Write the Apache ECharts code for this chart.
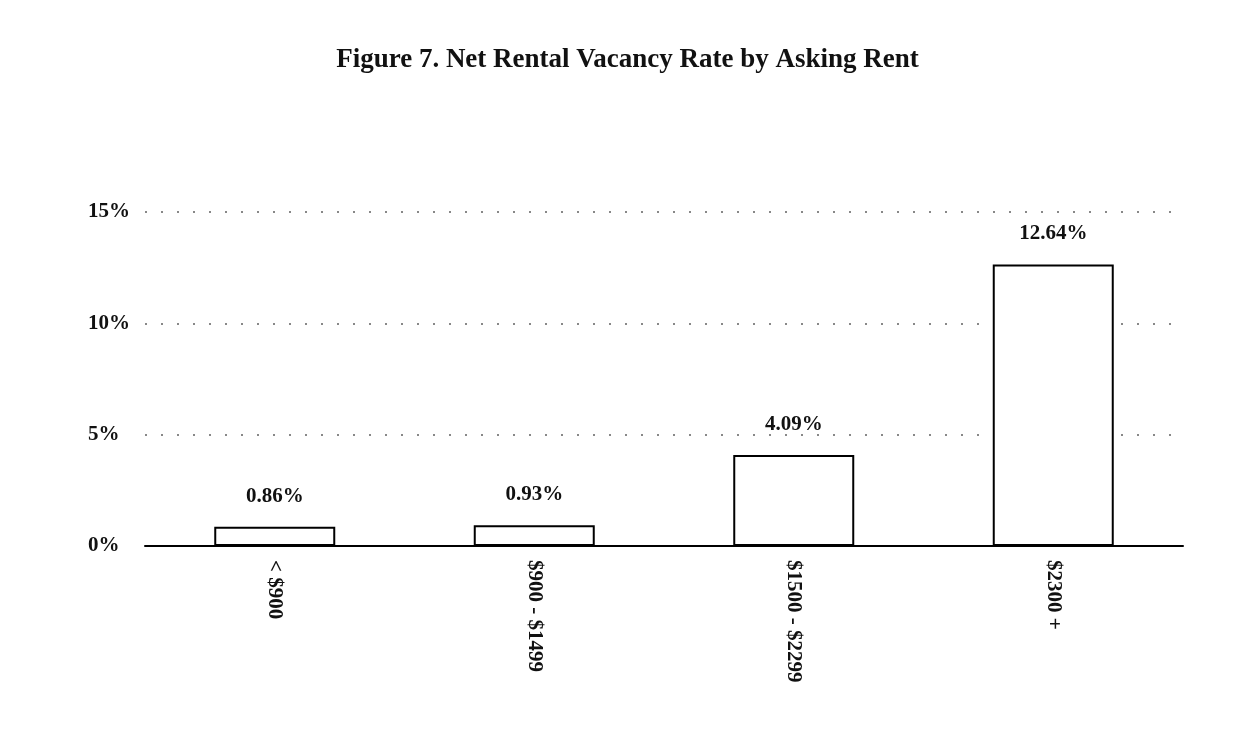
<!DOCTYPE html>
<html>
<head>
<meta charset="utf-8">
<script src="https://cdn.jsdelivr.net/npm/echarts@6/dist/echarts.min.js"></script>
<style>
  html, body { margin: 0; padding: 0; background: #fff; }
  #chart { width: 1255px; height: 739px; }
</style>
</head>
<body>
<div id="chart"></div>
<script>
const categories = ['< $900', '$900 - $1499', '$1500 - $2299', '$2300 +'];
const vacancyRates = [0.86, 0.93, 4.09, 12.64];

const font = '"Liberation Serif", "DejaVu Serif", serif';
const chart = echarts.init(document.getElementById('chart'));

chart.setOption({
  animation: false,
  textStyle: { fontFamily: font },
  title: {
    text: 'Figure 7. Net Rental Vacancy Rate by Asking Rent',
    left: 'center',
    top: 42,
    textStyle: { fontFamily: font, fontSize: 27, fontWeight: 'bold', color: '#111' }
  },
  grid: { left: 145, right: 72, top: 212, bottom: 193 },
  xAxis: {
    type: 'category',
    data: categories,
    axisLine: { lineStyle: { color: '#000', width: 2 } },
    axisTick: { show: false },
    axisLabel: {
      rotate: -90,
      margin: 14,
      fontSize: 21,
      fontWeight: 'bold',
      color: '#111',
      fontFamily: font
    }
  },
  yAxis: {
    type: 'value',
    min: 0,
    max: 15,
    interval: 5,
    axisLine: { show: false },
    axisTick: { show: false },
    axisLabel: {
      formatter: '{value}%',
      align: 'left',
      margin: 57,
      fontSize: 21,
      fontWeight: 'bold',
      color: '#111',
      fontFamily: font
    },
    splitLine: {
      lineStyle: { color: '#888', width: 2, type: [2, 14] }
    }
  },
  series: [{
    type: 'bar',
    data: vacancyRates,
    barWidth: 121,
    itemStyle: { color: '#fff', borderColor: '#000', borderWidth: 2 },
    label: {
      show: true,
      position: 'top',
      distance: 20,
      formatter: p => p.value.toFixed(2) + '%',
      fontSize: 21,
      fontWeight: 'bold',
      color: '#111',
      fontFamily: font
    }
  }]
});
</script>
</body>
</html>
